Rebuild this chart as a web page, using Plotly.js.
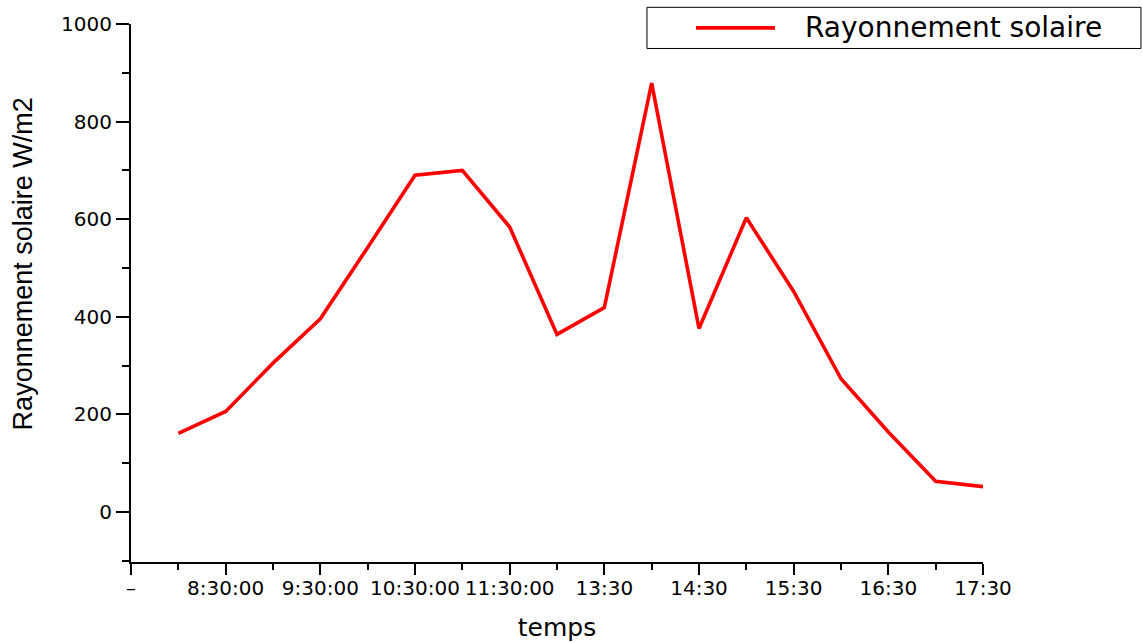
<!DOCTYPE html>
<html>
<head>
<meta charset="utf-8">
<script src="https://cdn.plot.ly/plotly-3.0.1.min.js"></script>
<style>
  html, body { margin: 0; padding: 0; background: #fff; }
  #chart { width: 1142px; height: 642px; }
</style>
</head>
<body>
<div id="chart"></div>
<script>
// Data (W/m2), one point per half-hour slot
const seriesName = "Rayonnement solaire";
const radiation = [161, 206, 305, 396, 542, 690, 700, 584, 364, 419, 879, 376, 603, 452, 273, 164, 63, 52];
// Tick labels shown every second slot, starting at the axis origin
const tickLabels = ["–", "8:30:00", "9:30:00", "10:30:00", "11:30:00", "13:30", "14:30", "15:30", "16:30", "17:30"];
const yTicks = [0, 200, 400, 600, 800, 1000];

const xPos = radiation.map((_, i) => i + 1);
const tickVals = tickLabels.map((_, i) => i * 2);

const tickFont = { family: "DejaVu Sans, Arial, sans-serif", size: 20, color: "#000" };

const trace = {
  type: "scatter",
  mode: "lines",
  name: seriesName,
  x: xPos,
  y: radiation,
  line: { color: "rgb(255,0,0)", width: 3.6 },
  cliponaxis: false,
  showlegend: false
};

// Legend drawn as a framed box, matching the original Origin-style legend
const legX0 = 0.6056, legX1 = 1.1854, legY0 = 0.9545, legY1 = 1.031;
const legMidY = (legY0 + legY1) / 2;

const layout = {
  width: 1142,
  height: 642,
  margin: { l: 131, r: 159, t: 24, b: 80, pad: 0 },
  paper_bgcolor: "#fff",
  plot_bgcolor: "#fff",
  showlegend: false,
  xaxis: {
    range: [0, 18],
    tickmode: "array",
    tickvals: tickVals,
    ticktext: tickLabels,
    ticks: "outside",
    ticklen: 11,
    tickwidth: 2,
    tickcolor: "#000",
    minor: { dtick: 1, tick0: 0, ticks: "outside", ticklen: 6, tickwidth: 2, tickcolor: "#000" },
    showline: true,
    linecolor: "#000",
    linewidth: 2,
    showgrid: false,
    zeroline: false,
    tickfont: tickFont,
    ticklabelstandoff: -4,
    title: { text: "temps", font: { family: "DejaVu Sans, Arial, sans-serif", size: 25, color: "#000" } },
    automargin: false
  },
  yaxis: {
    range: [-102.5, 1000],
    tickmode: "array",
    tickvals: yTicks,
    ticks: "outside",
    ticklen: 13,
    tickwidth: 2,
    tickcolor: "#000",
    minor: { dtick: 100, tick0: 0, ticks: "outside", ticklen: 7, tickwidth: 2, tickcolor: "#000" },
    showline: true,
    linecolor: "#000",
    linewidth: 2,
    showgrid: false,
    zeroline: false,
    tickfont: tickFont,
    ticklabelstandoff: 0,
    automargin: false
  },
  shapes: [
    { type: "rect", xref: "paper", yref: "paper", x0: legX0, x1: legX1, y0: legY0, y1: legY1,
      line: { color: "#000", width: 1 }, fillcolor: "rgba(255,255,255,0)", layer: "above" },
    { type: "line", xref: "paper", yref: "paper", x0: 0.6631, x1: 0.7559, y0: legMidY, y1: legMidY,
      line: { color: "rgb(255,0,0)", width: 3.6 } }
  ],
  annotations: [
    { xref: "paper", yref: "paper", x: 0.7887, y: legMidY, xanchor: "left", yanchor: "middle",
      text: seriesName, showarrow: false,
      font: { family: "DejaVu Sans, Arial, sans-serif", size: 28, color: "#000" } },
    { xref: "paper", yref: "paper", x: -0.1268, y: 0.555, xanchor: "center", yanchor: "middle",
      text: "Rayonnement solaire W/m2", textangle: -90, showarrow: false,
      font: { family: "Liberation Sans, Arial, sans-serif", size: 27, color: "#000" } }
  ]
};

Plotly.newPlot("chart", [trace], layout, { displayModeBar: false, staticPlot: true });
</script>
</body>
</html>
